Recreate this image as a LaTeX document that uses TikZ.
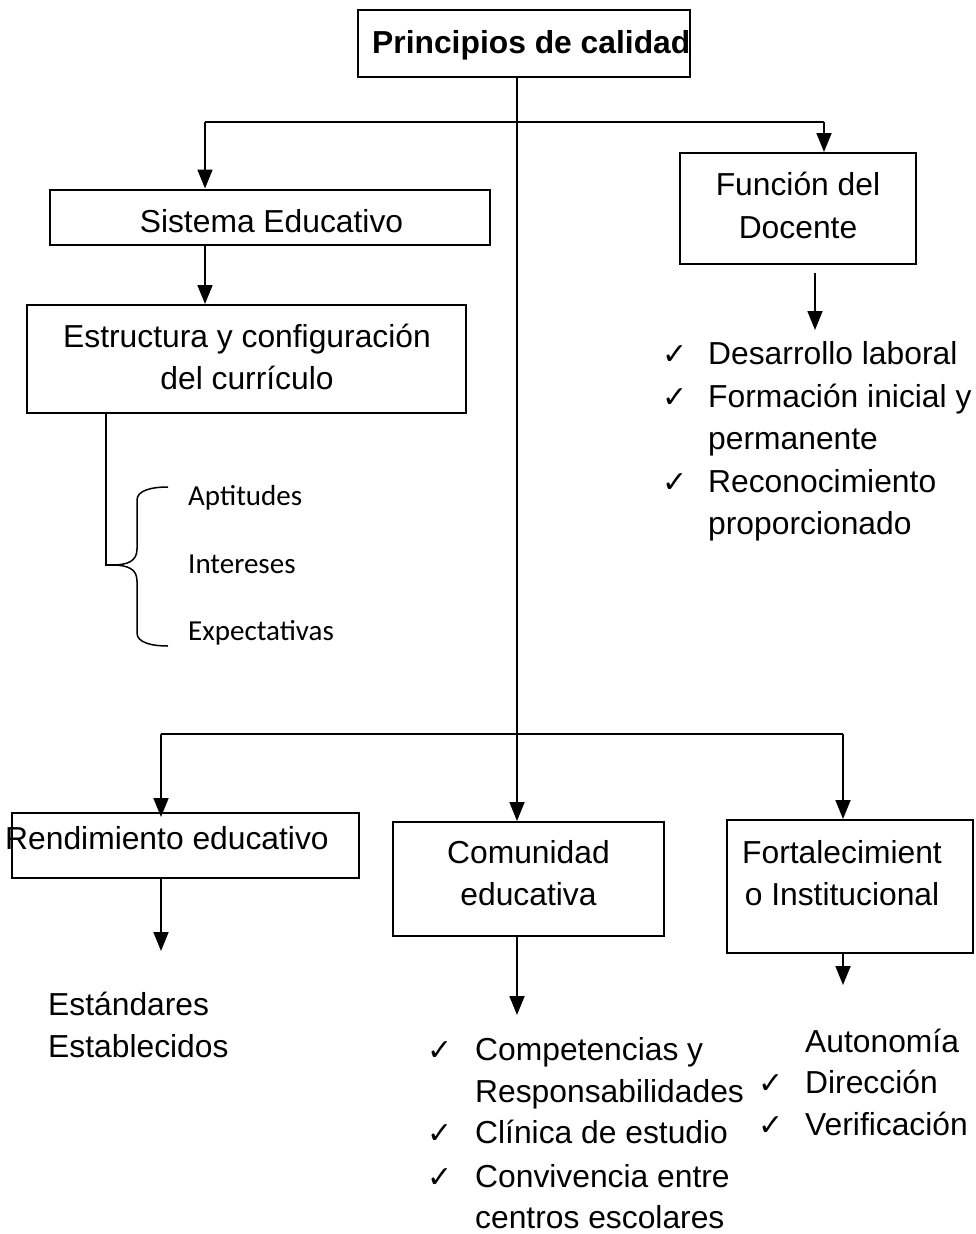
\documentclass[tikz,border=0pt]{standalone}
\usepackage{fontspec}
\setmainfont{Liberation Sans}
\newfontfamily\calib{Carlito}
\newfontfamily\dvs{DejaVu Sans}
\usetikzlibrary{arrows.meta}
\begin{document}
\begin{tikzpicture}[x=1pt,y=-1pt,
  box/.style={draw, line width=2pt, inner sep=0pt},
  ln/.style={line width=1.8pt},
  thin/.style={line width=1.5pt},
  arr/.style={line width=1.8pt, -{Triangle[length=19pt,width=15pt]}},
  lbl/.style={font=\fontsize{31.8}{42.5}\selectfont, inner sep=0pt, anchor=base west},
  clbl/.style={font=\fontsize{31.8}{42.5}\selectfont, inner sep=0pt, anchor=base},
  cal/.style={font=\calib\fontsize{29}{35}\selectfont, inner sep=0pt, anchor=base west},
  chk/.style={font=\dvs\fontsize{30}{30}\selectfont, inner sep=0pt, anchor=base west}]
\useasboundingbox (0,0) rectangle (976,1234);
\fill[white] (0,0) rectangle (976,1234);

% boxes
\node[box, minimum width=332pt, minimum height=67pt] (t) at (524,43.5) {};
\node[box, minimum width=440pt, minimum height=55pt] (se) at (270,217) {};
\node[box, minimum width=439pt, minimum height=108pt] (es) at (246.5,359) {};
\node[box, minimum width=236pt, minimum height=111pt] (fd) at (798,208.5) {};
\node[box, minimum width=347pt, minimum height=65pt] (re) at (185.5,845.5) {};
\node[box, minimum width=271pt, minimum height=114pt] (com) at (528.5,879) {};
\node[box, minimum width=246pt, minimum height=133pt] (fo) at (850,886.5) {};

% texts in boxes
\node[lbl, font=\bfseries\fontsize{31.8}{42.5}\selectfont] (tt) at (372,53) {Principios de calidad};
\node[clbl] (set) at (271.5,232) {Sistema Educativo};
\node[clbl] (est1) at (247,347) {Estructura y configuración};
\node[clbl] (est2) at (247,389) {del currículo};
\node[clbl] (fdt1) at (798,195) {Función del};
\node[clbl] (fdt2) at (798,238) {Docente};
\node[lbl] (ret) at (5,849) {Rendimiento educativo};
\node[clbl] (comt1) at (528.5,863) {Comunidad};
\node[clbl] (comt2) at (528.5,905) {educativa};
\node[clbl] (fot1) at (842,863) {Fortalecimient};
\node[clbl] (fot2) at (842,905) {o Institucional};

% coordinates
\coordinate (j1) at (517,122);
\coordinate (hl1) at (205,122);
\coordinate (hr1) at (824,122);
\coordinate (j2) at (517,734);
\coordinate (hl2) at (161,734);
\coordinate (hr2) at (843,734);
\coordinate (fa1) at (815,273);
\coordinate (fa2) at (815,330);
\coordinate (ra) at (161,951);
\coordinate (ca) at (517,1015);
\coordinate (oa) at (843,985);
\coordinate (bt) at (106,565);

% connectors
\draw[arr] (j1 |- t.south) -- (j1 |- com.north);
\draw[ln] (hl1) -- (hr1);
\draw[arr] (hl1) -- (hl1 |- se.north);
\draw[arr] (hr1) -- (hr1 |- fd.north);
\draw[arr] (se.south -| hl1) -- (es.north -| hl1);
\draw[arr] (fa1) -- (fa2);
\draw[ln] (hl2) -- (hr2);
\draw[arr] (hl2) -- ([yshift=-5pt]hl2 |- re.north);
\draw[arr] (hr2) -- (hr2 |- fo.north);
\draw[arr] (re.south -| ra) -- (ra);
\draw[arr] (com.south -| ca) -- (ca);
\draw[arr] (fo.south -| oa) -- (oa);

% brace
\draw[ln] (es.south -| bt) -- (bt) -- (112,565);
\draw[thin] (112,565) .. controls (128,565) and (137,561) .. (137,549) -- (137,500) .. controls (137,491) and (150,487) .. (168,487);
\draw[thin] (112,565) .. controls (128,565) and (137,569) .. (137,581) -- (137,633) .. controls (137,642) and (150,646) .. (168,646);
\node[cal] (ap) at (188,505) {Aptitudes};
\node[cal] (in) at (188,573) {Intereses};
\node[cal] (ex) at (188,640) {Expectativas};

% docente list
\node[chk] (c1) at (662,364) {✓};
\node[lbl] (d1) at (708,364) {Desarrollo laboral};
\node[chk] (c2) at (662,407) {✓};
\node[lbl] (d2) at (708,407) {Formación inicial y};
\node[lbl] (d3) at (708,449) {permanente};
\node[chk] (c3) at (662,492) {✓};
\node[lbl] (d4) at (708,492) {Reconocimiento};
\node[lbl] (d5) at (708,534) {proporcionado};

% rendimiento
\node[lbl] (r1) at (48,1015) {Estándares};
\node[lbl] (r2) at (48,1057) {Establecidos};

% comunidad list
\node[chk] (k1) at (427,1060) {✓};
\node[lbl] (m1) at (475,1060) {Competencias y};
\node[lbl] (m2) at (475,1102) {Responsabilidades};
\node[chk] (k2) at (427,1143) {✓};
\node[lbl] (m3) at (475,1143) {Clínica de estudio};
\node[chk] (k3) at (427,1187) {✓};
\node[lbl] (m4) at (475,1187) {Convivencia entre};
\node[lbl] (m5) at (475,1228) {centros escolares};

% fortalecimiento list
\node[lbl] (f1) at (805,1052) {Autonomía};
\node[chk] (q2) at (758,1093) {✓};
\node[lbl] (f2) at (805,1093) {Dirección};
\node[chk] (q3) at (758,1135) {✓};
\node[lbl] (f3) at (805,1135) {Verificación};
\end{tikzpicture}
\end{document}
